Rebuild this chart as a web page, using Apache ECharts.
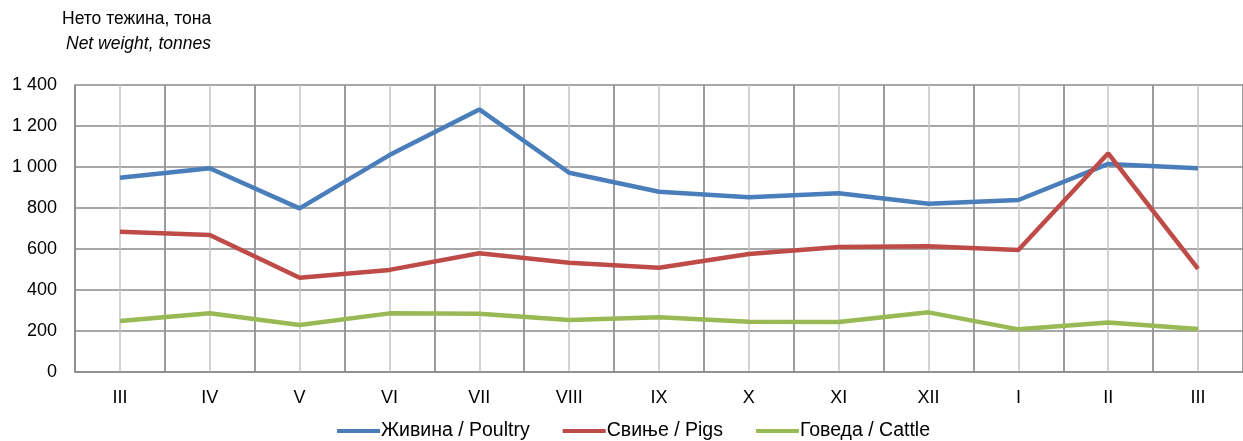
<!DOCTYPE html>
<html><head><meta charset="utf-8">
<script src="https://cdn.jsdelivr.net/npm/echarts@6/dist/echarts.min.js"></script>
<style>html,body{margin:0;padding:0;background:#fff}#c{width:1243px;height:441px}</style>
</head><body><div id="c"></div>
<script>
const categories = ['III','IV','V','VI','VII','VIII','IX','X','XI','XII','I','II','III'];
const poultry = [948, 994, 798, 1058, 1281, 972, 879, 852, 872, 821, 839, 1015, 994];
const pigs    = [684, 668, 460, 498, 579, 533, 509, 576, 610, 613, 595, 1067, 503];
const cattle  = [249, 287, 229, 286, 284, 254, 267, 245, 244, 291, 208, 242, 210];
const seriesNames = ['Живина / Poultry', 'Свиње / Pigs', 'Говеда / Cattle'];
const colors = ['#4a7ebb', '#be4b48', '#98b954'];

const FONT = "'Liberation Sans Narrow', 'Arial Narrow', 'Liberation Sans', Arial, sans-serif";
const chart = echarts.init(document.getElementById('c'), null, {renderer: 'canvas'});
function fmt(v){ return String(v).replace(/\B(?=(\d{3})+(?!\d))/g, ' '); }
chart.setOption({
  animation: false,
  textStyle: {fontFamily: FONT},
  title: [
    {
      text: 'Нето тежина, тона', left: 57, top: 5, padding: 5,
      textStyle: {fontFamily: FONT, fontSize: 17.5, fontWeight: 'normal', color: '#000'}
    },
    {
      text: 'Net weight, tonnes', left: 61, top: 30, padding: 5,
      textStyle: {fontFamily: FONT, fontSize: 17.5, fontWeight: 'normal', fontStyle: 'italic', color: '#000'}
    }
  ],
  grid: {left: 75, right: -3, top: 85, bottom: 69, containLabel: false},
  legend: {
    bottom: -5, left: 332,
    icon: 'rect', itemWidth: 43, itemHeight: 4, itemGap: 33,
    textStyle: {fontFamily: FONT, fontSize: 19.5, color: '#000', padding: [0,0,0,-4]},
    data: seriesNames
  },
  xAxis: [
    {
      type: 'value', min: 0, max: 26, interval: 1, position: 'bottom',
      axisLine: {show: false}, axisTick: {show: false}, axisLabel: {show: false},
      splitLine: {show: true, lineStyle: {color: '#c4c4c4', width: 1.5}}
    },
    {
      type: 'category', data: categories, boundaryGap: true, position: 'bottom',
      axisLine: {show: true, lineStyle: {color: '#8a8a8a', width: 1.5}},
      axisTick: {show: false},
      axisLabel: {fontFamily: FONT, fontSize: 18, color: '#000', margin: 17},
      splitLine: {show: true, lineStyle: {color: '#8a8a8a', width: 1.5}}
    }
  ],
  yAxis: {
    type: 'value', min: 0, max: 1400, interval: 200,
    axisLine: {show: true, lineStyle: {color: '#8a8a8a', width: 1.5}},
    axisTick: {show: false},
    axisLabel: {fontFamily: FONT, fontSize: 18, color: '#000', margin: 18, formatter: fmt},
    splitLine: {show: true, lineStyle: {color: '#8a8a8a', width: 1.5}}
  },
  series: [poultry, pigs, cattle].map((d, i) => ({
    name: seriesNames[i], type: 'line', xAxisIndex: 1, data: d,
    symbol: 'none', color: colors[i],
    lineStyle: {width: 4.5, color: colors[i]}
  }))
});
</script></body></html>
